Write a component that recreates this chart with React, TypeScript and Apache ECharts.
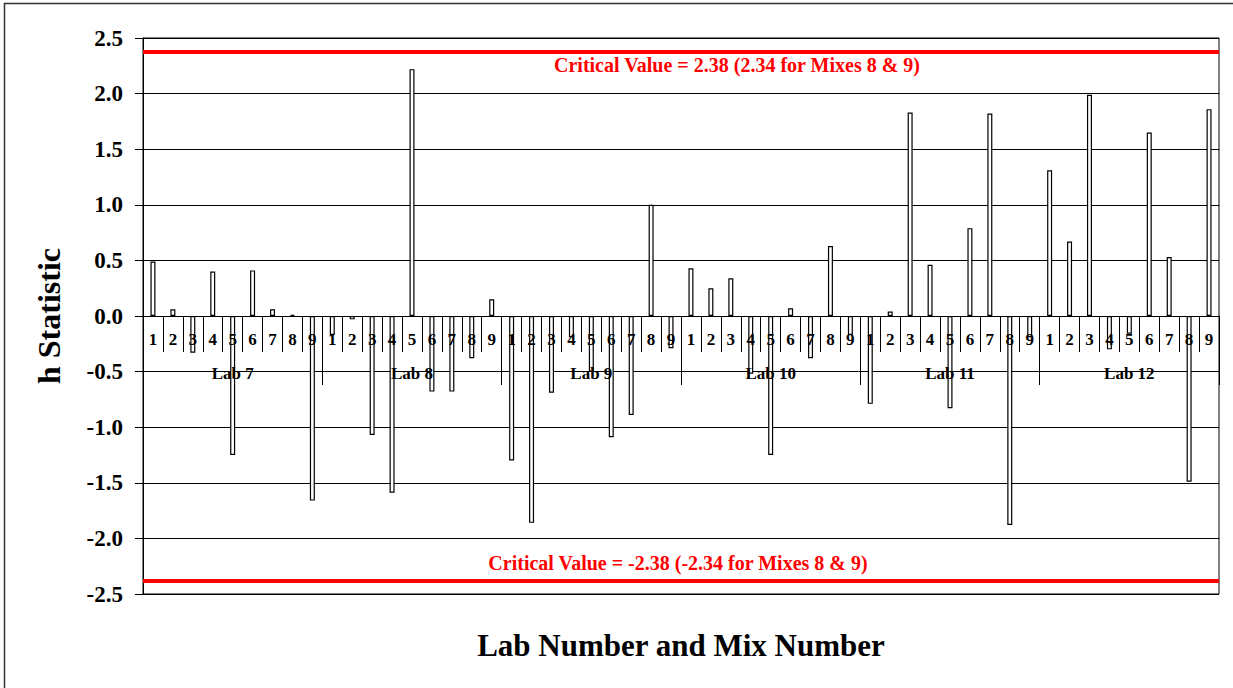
import React, { useEffect, useRef } from "react";
import * as echarts from "echarts";

const labs = ["Lab 7", "Lab 8", "Lab 9", "Lab 10", "Lab 11", "Lab 12"];
const mixes = ["1", "2", "3", "4", "5", "6", "7", "8", "9"];

const lab7 = [0.49, 0.06, -0.33, 0.4, -1.25, 0.41, 0.06, 0.01, -1.66];
const lab8 = [-0.17, -0.03, -1.07, -1.59, 2.22, -0.68, -0.68, -0.38, 0.15];
const lab9 = [-1.3, -1.86, -0.69, -0.19, -0.5, -1.09, -0.89, 1.0, -0.29];
const lab10 = [0.43, 0.25, 0.34, -0.52, -1.25, 0.07, -0.38, 0.63, -0.17];
const lab11 = [-0.79, 0.04, 1.83, 0.46, -0.83, 0.79, 1.82, -1.88, -0.19];
const lab12 = [1.31, 0.67, 1.99, -0.3, -0.16, 1.65, 0.53, -1.49, 1.86];

const criticalValue = 2.38;
const upperText = "Critical Value = 2.38 (2.34 for Mixes 8 & 9)";
const lowerText = "Critical Value = -2.38 (-2.34 for Mixes 8 & 9)";

const FONT = '"Liberation Serif", "Times New Roman", serif';

// grid geometry
const GRID_TOP = 38;
const GRID_BOTTOM_PX = 594;
const Y_MIN = -2.5;
const Y_MAX = 2.5;
// offset that moves the bottom category axes up to the zero line
const ZERO_OFFSET = -((GRID_BOTTOM_PX - GRID_TOP) * (0 - Y_MIN)) / (Y_MAX - Y_MIN);

export default function App() {
  const ref = useRef<HTMLDivElement>(null);

  useEffect(() => {
    if (!ref.current) return;
    const chart = echarts.init(ref.current, undefined, { renderer: "svg" });

    const allValues = [lab7, lab8, lab9, lab10, lab11, lab12].flat();
    const categories: string[] = [];
    labs.forEach(() => mixes.forEach((m) => categories.push(m)));

    const option: any = {
      animation: false,
      backgroundColor: "#fff",
      grid: {
        left: 143,
        top: GRID_TOP,
        right: 14,
        bottom: 688 - GRID_BOTTOM_PX,
        show: true,
        borderColor: "#000",
        borderWidth: 1,
        outerBoundsMode: "none",
      },
      xAxis: [
        {
          type: "category",
          data: categories,
          position: "bottom",
          offset: ZERO_OFFSET,
          z: 5,
          boundaryGap: true,
          axisLine: { show: true, onZero: false, lineStyle: { color: "#000", width: 1 } },
          axisTick: { show: true, interval: 0, length: 36, lineStyle: { color: "#000", width: 1 } },
          axisLabel: {
            interval: 0,
            margin: 15,
            color: "#000",
            fontFamily: FONT,
            fontWeight: "bold",
            fontSize: 17,
          },
          splitLine: { show: false },
        },
        {
          type: "category",
          data: labs,
          position: "bottom",
          offset: ZERO_OFFSET,
          z: 5,
          boundaryGap: true,
          axisLine: { show: false, onZero: false },
          axisTick: { show: true, interval: 0, length: 69, lineStyle: { color: "#000", width: 1 } },
          axisLabel: {
            interval: 0,
            margin: 49,
            color: "#000",
            fontFamily: FONT,
            fontWeight: "bold",
            fontSize: 17,
          },
          splitLine: { show: false },
        },
      ],
      yAxis: {
        type: "value",
        min: Y_MIN,
        max: Y_MAX,
        interval: 0.5,
        name: "h Statistic",
        nameLocation: "middle",
        nameGap: 78,
        nameRotate: 90,
        nameTextStyle: { color: "#000", fontFamily: FONT, fontWeight: "bold", fontSize: 32 },
        axisLine: { show: true, lineStyle: { color: "#000", width: 1 } },
        axisTick: { show: true, length: 8, inside: false, lineStyle: { color: "#000", width: 1 } },
        axisLabel: {
          margin: 20,
          color: "#000",
          fontFamily: FONT,
          fontWeight: "bold",
          fontSize: 23,
          formatter: (v: number) => v.toFixed(1),
        },
        splitLine: { show: true, lineStyle: { color: "#000", width: 1 } },
      },
      series: [
        {
          type: "bar",
          xAxisIndex: 0,
          data: allValues,
          barWidth: 5,
          z: 2,
          itemStyle: { color: "#fff", borderColor: "#000", borderWidth: 1.2 },
          markLine: {
            silent: true,
            symbol: ["none", "none"],
            label: { show: false },
            lineStyle: { color: "#ff0000", width: 4, type: "solid" },
            data: [{ yAxis: criticalValue }, { yAxis: -criticalValue }],
          },
        },
      ],
      graphic: [
        {
          type: "rect",
          silent: true,
          shape: { x: 4.5, y: 3.5, width: 1300, height: 720 },
          style: { fill: "none", stroke: "#333", lineWidth: 1.5 },
        },
        {
          type: "text",
          x: 737,
          y: 65,
          style: {
            text: upperText,
            fill: "#ff0000",
            font: `bold 20px ${FONT}`,
            align: "center",
            verticalAlign: "middle",
          },
        },
        {
          type: "text",
          x: 678,
          y: 563,
          style: {
            text: lowerText,
            fill: "#ff0000",
            font: `bold 20px ${FONT}`,
            align: "center",
            verticalAlign: "middle",
          },
        },
        {
          type: "text",
          x: 681,
          y: 645,
          style: {
            text: "Lab Number and Mix Number",
            fill: "#000",
            font: `bold 31px ${FONT}`,
            align: "center",
            verticalAlign: "middle",
          },
        },
      ],
    };

    chart.setOption(option);
    return () => chart.dispose();
  }, []);

  return (
    <div
      ref={ref}
      style={{ position: "fixed", left: 0, top: 0, width: 1233, height: 688 }}
    />
  );
}
